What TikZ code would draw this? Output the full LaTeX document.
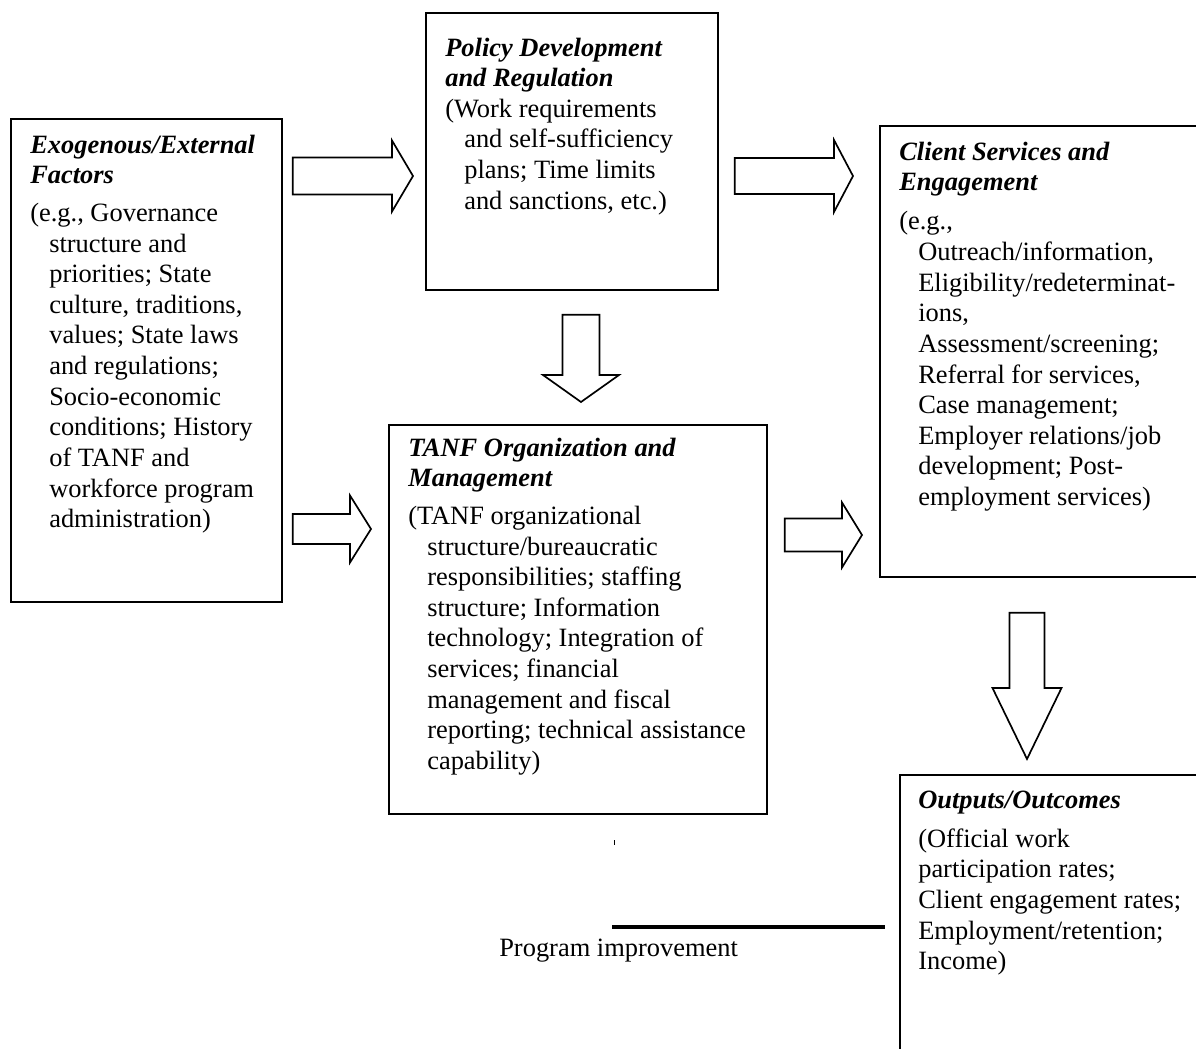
\documentclass[tikz,border=0pt]{standalone}
\usepackage{fontspec}
\setmainfont{Liberation Serif}
\usetikzlibrary{calc,positioning}

\newcommand{\px}{0.025cm}
\newcommand{\hangbody}{\hangindent=0.475cm\hangafter=1\relax}
\newcommand{\heading}[2][5pt]{\textbf{\textit{#2}}\par\vspace{#1}}
\newcommand{\boxpar}[2]{\begin{minipage}[t]{#1}\fontsize{18.8}{21.8}\selectfont\raggedright #2\end{minipage}}
% start, tip, shaft half width, head half width, head length (px)
\newcommand{\blockarrow}[5]{%
	\coordinate (hb) at ($(#2)!#5*\px!(#1)$);
	\draw[block] ($(#1)!#3*\px!90:(#2)$) -- ($(hb)!#3*\px!90:(#2)$) -- ($(hb)!#4*\px!90:(#2)$)
		-- (#2) -- ($(hb)!#4*\px!-90:(#2)$) -- ($(hb)!#3*\px!-90:(#2)$) -- ($(#1)!#3*\px!-90:(#2)$) -- cycle;
}

\begin{document}
\begin{tikzpicture}[
		x=\px,y=-\px,
		frame/.style={draw,line width=1.2pt,anchor=north west,inner sep=0pt},
		boxtext/.style={inner sep=0pt,anchor=base west},
		block/.style={draw,line width=1.2pt,fill=white,line join=miter},
		feedback/.style={line width=3pt},
	]
	\clip (0,0) rectangle (1196,1048);
	%
	\node[frame,minimum width=271*\px,minimum height=483*\px] (exo)      at (10,118)  {};
	\node[frame,minimum width=292*\px,minimum height=277*\px] (policy)   at (425,12)  {};
	\node[frame,minimum width=330*\px,minimum height=451*\px] (client)   at (879,125) {};
	\node[frame,minimum width=378*\px,minimum height=389*\px] (tanf)     at (388,424) {};
	\node[frame,minimum width=310*\px,minimum height=300*\px] (outcomes) at (899,774) {};
	%
	\node[boxtext] (exo_txt) at ($(exo.north west)+(20,35)$) {\boxpar{6.8cm}{%
		\heading{Exogenous/External\newline Factors}
		\hangbody (e.g., Governance\newline structure and\newline priorities; State\newline
		culture, traditions,\newline values; State laws\newline and regulations;\newline
		Socio-economic\newline conditions; History\newline of TANF and\newline
		workforce program\newline administration)}};
	\node[boxtext] (policy_txt) at ($(policy.north west)+(20,44)$) {\boxpar{7cm}{%
		\heading[0pt]{Policy Development\newline and Regulation}
		\hangbody (Work requirements\newline and self-sufficiency\newline plans; Time limits\newline
		and sanctions, etc.)}};
	\node[boxtext] (client_txt) at ($(client.north west)+(20,35)$) {\boxpar{7.5cm}{%
		\heading[6pt]{Client Services and\newline Engagement}
		\hangbody (e.g.,\newline Outreach/information,\newline Eligibility/redeterminat-\newline
		ions,\newline Assessment/screening;\newline Referral for services,\newline
		Case management;\newline Employer relations/job\newline development; Post-\newline
		employment services)}};
	\node[boxtext] (tanf_txt) at ($(tanf.north west)+(20,32)$) {\boxpar{9.5cm}{%
		\heading{TANF Organization and\newline Management}
		\hangbody (TANF organizational\newline structure/bureaucratic\newline
		responsibilities; staffing\newline structure; Information\newline
		technology; Integration of\newline services; financial\newline
		management and fiscal\newline reporting; technical assistance\newline capability)}};
	\node[boxtext] (outcomes_txt) at ($(outcomes.north west)+(19,34)$) {\boxpar{7.5cm}{%
		\heading[6pt]{Outputs/Outcomes}
		(Official work\newline participation rates;\newline Client engagement rates;\newline
		Employment/retention;\newline Income)}};
	%
	\coordinate (a1s) at ($(exo.east |- 0,176)+(10,0)$);
	\coordinate (a1e) at ($(policy.west |- 0,176)+(-12,0)$);
	\coordinate (a2s) at ($(exo.east |- 0,529)+(10,0)$);
	\coordinate (a2e) at ($(tanf.west |- 0,529)+(-17,0)$);
	\coordinate (a3s) at ($(policy.east |- 0,176)+(16,0)$);
	\coordinate (a3e) at ($(client.west |- 0,176)+(-26,0)$);
	\coordinate (a4s) at ($(tanf.east |- 0,535)+(17,0)$);
	\coordinate (a4e) at ($(client.west |- 0,535)+(-17,0)$);
	\coordinate (d1s) at ($(policy.south -| 581,0)+(0,24)$);
	\coordinate (d1e) at ($(tanf.north -| 581,0)+(0,-22)$);
	\coordinate (d2s) at ($(client.south -| 1027,0)+(0,35)$);
	\coordinate (d2e) at ($(outcomes.north -| 1027,0)+(0,-15)$);
	\blockarrow{a1s}{a1e}{18.5}{35.5}{21}
	\blockarrow{a2s}{a2e}{15}{33.5}{21}
	\blockarrow{a3s}{a3e}{18}{36}{19}
	\blockarrow{a4s}{a4e}{16.5}{32.5}{20}
	\blockarrow{d1s}{d1e}{18.5}{38}{27}
	\blockarrow{d2s}{d2e}{17.5}{34.5}{71}
	%
	\coordinate (fb_start) at (612,927);
	\coordinate (fb_end) at ($(outcomes.west |- 0,927)+(-14,0)$);
	\draw[feedback] (fb_start) -- (fb_end);
	\coordinate (tick) at (614,840);
	\draw[thin] (tick) -- ++(0,5);
	\node[boxtext,font=\fontsize{18.8}{21.8}\selectfont] (improve) at (499,956) {Program improvement};
\end{tikzpicture}
\end{document}
